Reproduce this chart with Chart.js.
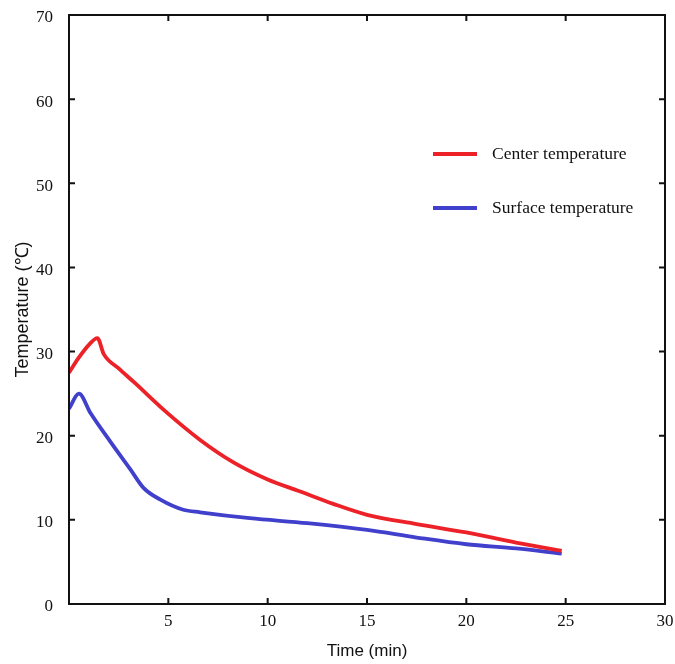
<!DOCTYPE html>
<html><head><meta charset="utf-8">
<script src="https://cdn.jsdelivr.net/npm/chart.js@4/dist/chart.umd.min.js"></script>
<style>html,body{margin:0;padding:0;background:#fff}#wrap{width:675px;height:664px;position:relative}</style>
</head><body><div id="wrap"><canvas id="c" width="675" height="664"></canvas></div>
<script>
const centerTime = [0, 0.5, 1.0, 1.43, 1.75, 2.5, 3.3, 4.9, 6.6, 8.3, 10, 11.6, 13.3, 15, 17.5, 20, 22.5, 24.8];
const centerTemp = [27.5, 29.3, 30.8, 31.6, 29.7, 28.0, 26.3, 22.8, 19.5, 16.8, 14.8, 13.4, 11.9, 10.6, 9.5, 8.5, 7.3, 6.3];
const surfaceTime = [0, 0.5, 1.08, 2.08, 3.09, 3.75, 4.6, 5.75, 6.6, 9.1, 12, 15, 17.5, 20, 22.5, 24.8];
const surfaceTemp = [23.2, 25.0, 22.7, 19.3, 16.0, 13.8, 12.4, 11.2, 10.9, 10.2, 9.6, 8.8, 7.9, 7.1, 6.6, 6.0];
const seriesNames = ["Center temperature", "Surface temperature"];
const xTicks = [5, 10, 15, 20, 25, 30];
const yTicks = [0, 10, 20, 30, 40, 50, 60, 70];

const zip = (a, b) => a.map((x, i) => ({x, y: b[i]}));
const serif = "'Liberation Serif', 'Times New Roman', serif";
const sans = "'Liberation Sans', Arial, sans-serif";

const framePlugin = {
  id: 'frame',
  afterDraw(chart) {
    const {ctx, chartArea: a, scales: {x, y}} = chart;
    ctx.save();
    ctx.strokeStyle = '#111';
    ctx.lineWidth = 2;
    ctx.strokeRect(a.left, a.top, a.right - a.left, a.bottom - a.top);
    const L = 6;
    ctx.beginPath();
    xTicks.forEach(v => {
      const px = x.getPixelForValue(v);
      ctx.moveTo(px, a.bottom); ctx.lineTo(px, a.bottom - L);
      ctx.moveTo(px, a.top); ctx.lineTo(px, a.top + L);
    });
    yTicks.forEach(v => {
      const py = y.getPixelForValue(v);
      ctx.moveTo(a.left, py); ctx.lineTo(a.left + L, py);
      ctx.moveTo(a.right, py); ctx.lineTo(a.right - L, py);
    });
    ctx.stroke();
    ctx.font = "17.5px " + serif;
    ctx.fillStyle = '#111';
    ctx.textBaseline = 'middle';
    chart.data.datasets.forEach((ds, i) => {
      const yy = 154 + i * 54;
      ctx.strokeStyle = ds.borderColor;
      ctx.lineWidth = 4;
      ctx.beginPath(); ctx.moveTo(433, yy); ctx.lineTo(477, yy); ctx.stroke();
      ctx.fillText(ds.label, 492, yy);
    });
    ctx.restore();
  }
};

new Chart(document.getElementById('c'), {
  type: 'line',
  data: {
    datasets: [
      {label: seriesNames[0], data: zip(centerTime, centerTemp), borderColor: '#ec2228', borderWidth: 3.8, pointRadius: 0, cubicInterpolationMode: 'monotone', fill: false},
      {label: seriesNames[1], data: zip(surfaceTime, surfaceTemp), borderColor: '#4040cc', borderWidth: 3.8, pointRadius: 0, cubicInterpolationMode: 'monotone', fill: false}
    ]
  },
  options: {
    responsive: false, animation: false, devicePixelRatio: 1,
    layout: {padding: {top: 15, right: 10, left: 0, bottom: 0}},
    plugins: {legend: {display: false}, tooltip: {enabled: false}},
    scales: {
      x: {
        type: 'linear', min: 0, max: 30,
        afterBuildTicks: s => { s.ticks = xTicks.map(v => ({value: v})); },
        afterFit: s => { s.height = 60; s.paddingLeft = 0; s.paddingRight = 0; },
        grid: {display: false, drawTicks: false},
        border: {display: false},
        ticks: {color: '#111', font: {family: serif, size: 17}, padding: 7, maxRotation: 0, autoSkip: false},
        title: {display: true, text: 'Time (min)', color: '#111', font: {family: sans, size: 17}, padding: {top: 3, bottom: 2}}
      },
      y: {
        type: 'linear', min: 0, max: 70,
        afterBuildTicks: s => { s.ticks = yTicks.map(v => ({value: v})); },
        afterFit: s => { s.width = 69; s.paddingTop = 0; s.paddingBottom = 0; },
        grid: {display: false, drawTicks: false},
        border: {display: false},
        ticks: {color: '#111', font: {family: serif, size: 17}, padding: 16, autoSkip: false, labelOffset: 3},
        title: {display: true, text: 'Temperature (℃)', color: '#111', font: {family: sans, size: 18}, padding: {top: 12, bottom: 4}}
      }
    }
  },
  plugins: [framePlugin]
});
</script></body></html>
